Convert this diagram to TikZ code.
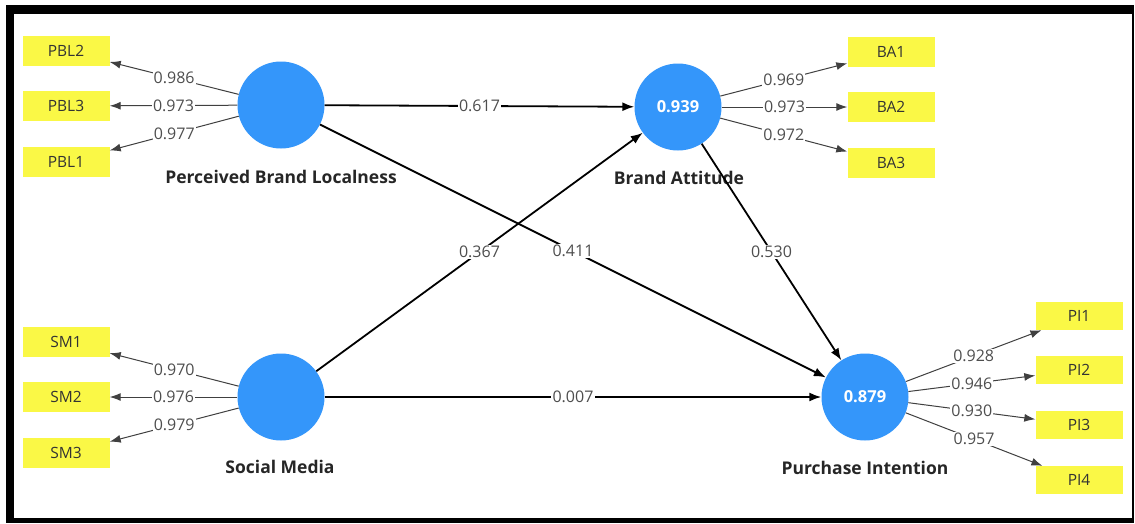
\documentclass[tikz,border=0pt]{standalone}
\usepackage{fontspec}
\setmainfont{Open Sans}
\usetikzlibrary{arrows.meta}
\definecolor{lvblue}{RGB}{52,150,250}
\definecolor{indyellow}{RGB}{250,248,70}
\definecolor{coef}{RGB}{78,78,78}
\begin{document}
\begin{tikzpicture}[x=1pt,y=-1pt,
  latent/.style={circle, fill=lvblue, minimum size=87pt, inner sep=0pt,
    text=white, font=\fontsize{16.5}{18}\selectfont\bfseries},
  indicator/.style={rectangle, fill=indyellow, minimum width=87pt,
    minimum height=30pt, inner sep=0pt, text=black!80,
    font=\fontsize{15.5}{17}\selectfont},
  lvname/.style={font=\fontsize{17.5}{20}\selectfont\bfseries, text=black!85},
  loading/.style={draw=black!75, line width=1pt, -{Latex[length=11pt,width=8pt]}},
  structural/.style={draw=black, line width=1.8pt, -{Latex[length=12pt,width=9pt]}},
  coefl/.style={fill=white, inner sep=1.2pt, text=coef,
    font=\fontsize{16}{18}\selectfont}]
\useasboundingbox (0,0) rectangle (1135,523);
% frame
\fill[black] (6,5) rectangle (1134,523);
\fill[white] (14,14) rectangle (1132,518);

% latent variables
\node[latent] (pbl) at (281,105) {};
\node[latent] (ba)  at (678,107) {0.939};
\node[latent] (sm)  at (281,397) {};
\node[latent] (pi)  at (865,397) {0.879};

% construct names
\node[lvname] at (281,177) {Perceived Brand Localness};
\node[lvname] at (679,178) {Brand Attitude};
\node[lvname] at (280,467) {Social Media};
\node[lvname] at (865,468) {Purchase Intention};

% indicators
\node[indicator] (pbl2) at (66,51)  {PBL2};
\node[indicator] (pbl3) at (66,106) {PBL3};
\node[indicator] (pbl1) at (66,162) {PBL1};
\node[indicator] (sm1)  at (66,342) {SM1};
\node[indicator] (sm2)  at (66,397) {SM2};
\node[indicator] (sm3)  at (66,453) {SM3};
\node[indicator] (ba1)  at (891,52)  {BA1};
\node[indicator] (ba2)  at (891,107) {BA2};
\node[indicator] (ba3)  at (891,163) {BA3};
\node[indicator, minimum height=28pt] (pi1) at (1079,316) {PI1};
\node[indicator, minimum height=28pt] (pi2) at (1079,370) {PI2};
\node[indicator, minimum height=28pt] (pi3) at (1079,425) {PI3};
\node[indicator, minimum height=28pt] (pi4) at (1079,480) {PI4};

% outer loadings
\draw[loading] (pbl) -- node[coefl] {0.986} (pbl2);
\draw[loading] (pbl) -- node[coefl] {0.973} (pbl3);
\draw[loading] (pbl) -- node[coefl] {0.977} (pbl1);
\draw[loading] (sm) -- node[coefl] {0.970} (sm1);
\draw[loading] (sm) -- node[coefl] {0.976} (sm2);
\draw[loading] (sm) -- node[coefl] {0.979} (sm3);
\draw[loading] (ba) -- node[coefl] {0.969} (ba1);
\draw[loading] (ba) -- node[coefl] {0.973} (ba2);
\draw[loading] (ba) -- node[coefl] {0.972} (ba3);
\draw[loading] (pi) -- node[coefl] {0.928} (pi1);
\draw[loading] (pi) -- node[coefl] {0.946} (pi2);
\draw[loading] (pi) -- node[coefl] {0.930} (pi3);
\draw[loading] (pi) -- node[coefl] {0.957} (pi4);

% path coefficients
\draw[structural] (pbl) -- node[coefl] {0.617} (ba);
\draw[structural] (pbl) -- node[coefl] {0.411} (pi);
\draw[structural] (sm) -- node[coefl] {0.367} (ba);
\draw[structural] (sm) -- node[coefl] {0.007} (pi);
\draw[structural] (ba) -- node[coefl] {0.530} (pi);
\end{tikzpicture}
\end{document}
